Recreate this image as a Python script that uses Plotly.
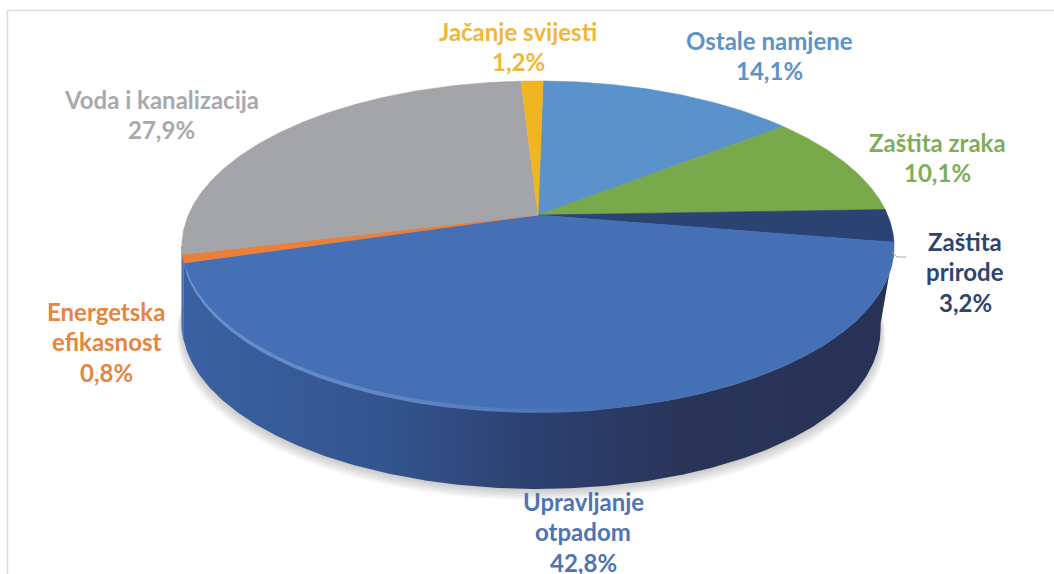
import numpy as np
import plotly.graph_objects as go

# Data, clockwise from the top of the pie
names = ["Ostale namjene", "Zaštita zraka", "Zaštita prirode", "Upravljanje otpadom",
         "Energetska efikasnost", "Voda i kanalizacija", "Jačanje svijesti"]
values = [14.1, 10.1, 3.2, 42.8, 0.8, 27.9, 1.2]
label_lines = [["Ostale namjene"], ["Zaštita zraka"], ["Zaštita", "prirode"],
               ["Upravljanje", "otpadom"], ["Energetska", "efikasnost"],
               ["Voda i kanalizacija"], ["Jačanje svijesti"]]

# Styles
face_colors = ["#5b92cb", "#78a94a", "#2a4373", "#4570b6", "#e87f3a", "#a4a5a8", "#f2b522"]
wall_colors = ["#3f6a9a", "#55783a", "#283256", "#2f4d85", "#3b61a2", "#3b61a2", "#b8891a"]
text_colors = ["#5d93c9", "#7fae5a", "#2f4470", "#4f74b4", "#e5853f", "#a8a9ad", "#f0b73a"]
label_x = [769, 937, 965, 583, 106, 161, 518]
label_y = [40, 142, 241, 501, 311, 99, 31]
LINE_GAP = 30.5
FONT = "Lato, 'Open Sans', sans-serif"
FONT_SIZE = 24

# Perspective projection of the pie disc on the page
CX, CY = 538.0, 215.0
A, B, K = 349.6, 159.5, 0.19
DEPTH = 77.0
ROTATION = 1.0


def rim(theta_deg, scale=1.0, dy=0.0):
    t = np.radians(theta_deg)
    w = 1 + K * np.cos(t)
    return CX + scale * A * np.sin(t) / w, CY + dy - B * np.cos(t) / w


def bottom_rim(theta_deg, dy=DEPTH, extra=0.0):
    # the lower rim sits a little further in on the right-hand side
    s = np.sin(np.radians(theta_deg))
    return rim(theta_deg, 1 + extra - 0.04 * np.clip(s, 0, 1) ** 3, dy)


def arc(a, b):
    return np.linspace(a, b, max(4, int(abs(b - a) * 2)))


total = sum(values)
edges = ROTATION + 360 * np.concatenate([[0], np.cumsum(values)]) / total
fig = go.Figure()


def poly(x, y, color=None, gradient=None, line=None):
    kw = dict(x=list(x), y=list(y), mode="lines", fill="toself", hoverinfo="skip", showlegend=False)
    if gradient:
        kw["fillgradient"] = dict(type="horizontal", colorscale=gradient)
        kw["line"] = dict(width=0, color="rgba(0,0,0,0)")
    else:
        kw["fillcolor"] = color
        kw["line"] = dict(width=0.6 if line else 0, color=line or "rgba(0,0,0,0)")
    fig.add_trace(go.Scatter(**kw))


# Soft shadow below the wall
full = arc(0, 360)
for i in range(8):
    sx, sy = bottom_rim(full, DEPTH + 1 + 1.5 * i, 0.002 * i)
    poly(sx, sy, color="rgba(70,70,70,0.035)")

# Walls, only where they face the viewer
tangent = np.degrees(np.arccos(-K))
vis_a, vis_b = tangent, 360 - tangent
for i in range(len(values)):
    a, b = max(edges[i], vis_a), min(edges[i + 1], vis_b)
    if b <= a:
        continue
    th = arc(a, b)
    x1, y1 = rim(th)
    x2, y2 = bottom_rim(th[::-1])
    xs, ys = np.concatenate([x1, x2]), np.concatenate([y1, y2])
    if names[i] == "Upravljanje otpadom":
        poly(xs, ys, gradient=[[0, "#3b61a2"], [0.28, "#33558f"], [0.48, "#2d4172"],
                               [0.7, "#293459"], [1, "#283256"]])
    else:
        poly(xs, ys, color=wall_colors[i], line=wall_colors[i])

# Top face
for i in range(len(values)):
    th = arc(edges[i], edges[i + 1])
    x, y = rim(th)
    poly(np.r_[CX, x, CX], np.r_[CY, y, CY], color=face_colors[i], line=face_colors[i])

# Bevel highlight on the front of the largest slice
idx = names.index("Upravljanje otpadom")
th = arc(172, edges[idx + 1] - 3)
x1, y1 = rim(th, 1.0, 1)
x2, y2 = rim(th[::-1], 1.0, -3)
poly(np.r_[x1, x2], np.r_[y1, y2], gradient=[[0, "#6a91cc"], [0.6, "#5c84c2"], [1, "#4570b6"]])

# Leader line of the small slice
fig.add_trace(go.Scatter(x=[892, 897, 906], y=[252, 257, 257], mode="lines", hoverinfo="skip",
                         showlegend=False, line=dict(color="#a6a6a6", width=1)))

# Frame of the cropped picture
fig.add_shape(type="line", x0=7.5, x1=7.5, y0=10, y1=574, line=dict(color="#dcdcdc", width=1.5))
fig.add_shape(type="line", x0=7, x1=1054, y0=10.5, y1=10.5, line=dict(color="#dcdcdc", width=1.5))

# Labels
for i, v in enumerate(values):
    lines = label_lines[i] + [f"{v:.1f}".replace(".", ",") + "%"]
    for j, text in enumerate(lines):
        fig.add_annotation(x=label_x[i], y=label_y[i] + j * LINE_GAP, text=text, showarrow=False,
                           xanchor="center", yanchor="middle",
                           font=dict(family=FONT, size=FONT_SIZE, color=text_colors[i], weight="bold"))

fig.update_xaxes(range=[0, 1054], visible=False, fixedrange=True)
fig.update_yaxes(range=[574, 0], visible=False, fixedrange=True)
fig.update_layout(width=1054, height=574, margin=dict(l=0, r=0, t=0, b=0),
                  paper_bgcolor="white", plot_bgcolor="white", showlegend=False)
fig.write_html("out.html", config={"displayModeBar": False},
               post_script="document.body.style.margin='0';document.body.style.overflow='hidden';")
